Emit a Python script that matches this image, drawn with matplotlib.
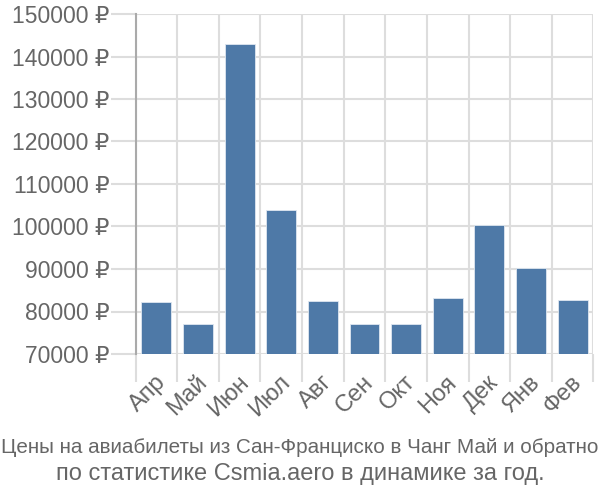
import matplotlib
matplotlib.use("Agg")
import matplotlib.pyplot as plt
import matplotlib.transforms as mtransforms
import numpy as np

months = ["Апр", "Май", "Июн", "Июл", "Авг", "Сен", "Окт", "Ноя", "Дек", "Янв", "Фев"]
prices = [82200, 77000, 143000, 104000, 82500, 77000, 77000, 83200, 100300, 90200, 82600]
yticks = [70000, 80000, 90000, 100000, 110000, 120000, 130000, 140000, 150000]
caption = ["Цены на авиабилеты из Сан-Франциско в Чанг Май и обратно",
           "по статистике Csmia.aero в динамике за год."]

plt.rcParams["font.family"] = ["Liberation Sans", "DejaVu Sans"]

def main():
    fig = plt.figure(figsize=(6, 5), dpi=100)
    ax = fig.add_axes([0.226, 0.292, 0.763, 0.68])

    x = np.arange(len(months))
    ax.bar(x, [p - 70000 for p in prices], bottom=70000, width=0.72,
           color="#4e79a7", edgecolor="#dfe7f0", linewidth=0.6, zorder=3)

    ax.set_xlim(-0.5, len(months) - 0.5)
    ax.set_ylim(70000, 150000)

    ax.set_yticks(yticks)
    ax.set_yticklabels([f"{v} ₽" for v in yticks], fontsize=16.5, color="#666666")
    ax.tick_params(axis="y", length=18, width=1.5, color="#dddddd", pad=1)

    ax.set_xticks(x)
    ax.set_xticklabels(months, rotation=45, ha="right", va="top",
                       rotation_mode="anchor", fontsize=17, color="#666666")
    ax.tick_params(axis="x", which="major", length=0, pad=12.5)
    shift = mtransforms.ScaledTranslation(-2 / 100, 0, fig.dpi_scale_trans)
    for lbl in ax.get_xticklabels():
        lbl.set_transform(lbl.get_transform() + shift)
    ax.set_xticks(np.arange(-0.5, len(months)), minor=True)
    ax.tick_params(axis="x", which="minor", length=20, width=1.5, color="#dddddd")

    ax.grid(True, axis="y", color="#dddddd", linewidth=1.5, zorder=0)
    ax.grid(True, axis="x", which="minor", color="#dddddd", linewidth=1.5, zorder=0)

    for s in ["top", "right", "bottom"]:
        ax.spines[s].set_visible(False)
    ax.spines["left"].set_color("#aaaaaa")
    ax.spines["left"].set_linewidth(1.5)
    ax.spines["left"].set_bounds(70000, 150000)

    fig.text(0.5, 0.105, caption[0], ha="center", va="center", fontsize=14.85,
             color="#666666")
    fig.text(0.5, 0.052, caption[1], ha="center", va="center", fontsize=17,
             color="#666666")

    fig.savefig("out.png", dpi=100)

if __name__ == "__main__":
    main()
